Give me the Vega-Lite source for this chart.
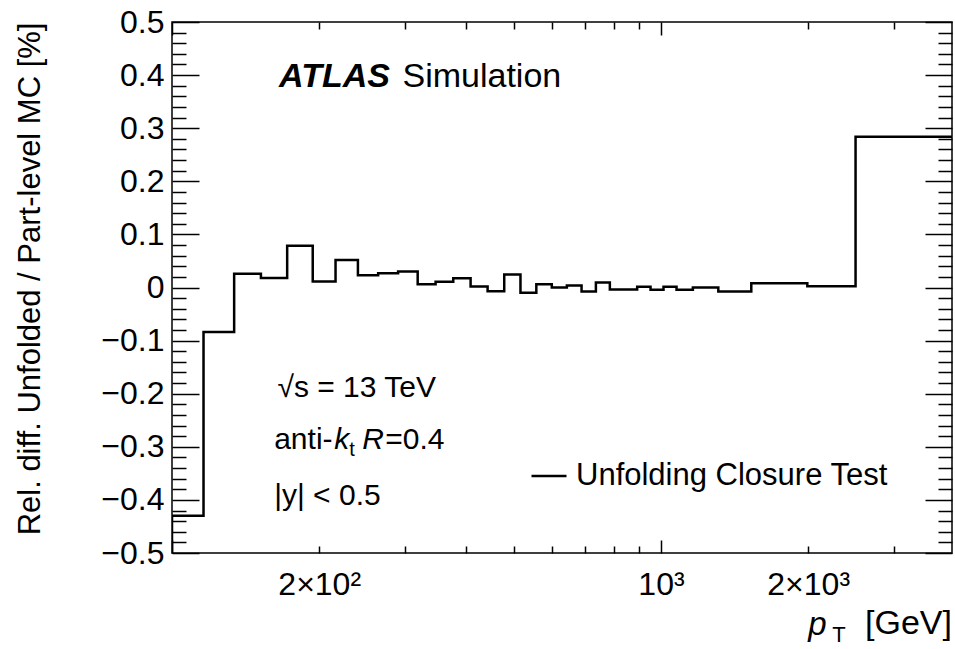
{
  "$schema": "https://vega.github.io/schema/vega-lite/v6.json",
  "width": 780,
  "height": 531,
  "autosize": {"type": "none"},
  "padding": {"left": 172, "top": 22, "right": 3, "bottom": 96},
  "background": "white",
  "config": {
    "view": {"stroke": "black", "strokeWidth": 1.5},
    "font": "Liberation Sans",
    "axis": {"domain": false, "grid": false, "tickColor": "black", "tickWidth": 1.5, "labelColor": "black", "titleColor": "black", "labelFont": "Liberation Sans", "titleFont": "Liberation Sans"}
  },
  "data": {
    "values": [
      {"i": 0, "pt": 100, "v": -0.5},
      {"i": 1, "pt": 100, "v": -0.43},
      {"i": 2, "pt": 116, "v": -0.084},
      {"i": 3, "pt": 134, "v": 0.026},
      {"i": 4, "pt": 152, "v": 0.018},
      {"i": 5, "pt": 172, "v": 0.0785},
      {"i": 6, "pt": 194, "v": 0.0113},
      {"i": 7, "pt": 216, "v": 0.052},
      {"i": 8, "pt": 240, "v": 0.023},
      {"i": 9, "pt": 264, "v": 0.027},
      {"i": 10, "pt": 290, "v": 0.030},
      {"i": 11, "pt": 318, "v": 0.006},
      {"i": 12, "pt": 346, "v": 0.0107},
      {"i": 13, "pt": 376, "v": 0.0176},
      {"i": 14, "pt": 408, "v": 0.002},
      {"i": 15, "pt": 442, "v": -0.007},
      {"i": 16, "pt": 478, "v": 0.0245},
      {"i": 17, "pt": 516, "v": -0.010},
      {"i": 18, "pt": 556, "v": 0.006},
      {"i": 19, "pt": 598, "v": 0.0},
      {"i": 20, "pt": 642, "v": 0.004},
      {"i": 21, "pt": 688, "v": -0.0075},
      {"i": 22, "pt": 736, "v": 0.0094},
      {"i": 23, "pt": 786, "v": -0.0038},
      {"i": 24, "pt": 838, "v": -0.0038},
      {"i": 25, "pt": 894, "v": 0.0013},
      {"i": 26, "pt": 952, "v": -0.0044},
      {"i": 27, "pt": 1012, "v": 0.0013},
      {"i": 28, "pt": 1076, "v": -0.0044},
      {"i": 29, "pt": 1162, "v": 0.0},
      {"i": 30, "pt": 1310, "v": -0.0075},
      {"i": 31, "pt": 1530, "v": 0.008},
      {"i": 32, "pt": 1992, "v": 0.0025},
      {"i": 33, "pt": 2500, "v": 0.284},
      {"i": 34, "pt": 3937, "v": 0.284}
    ]
  },
  "layer": [
    {
      "mark": {"type": "line", "interpolate": "step-after", "strokeWidth": 2.5, "clip": true},
      "encoding": {
        "x": {"field": "pt", "type": "quantitative",
          "scale": {"type": "log", "domain": [100, 3937], "nice": false},
          "axis": {"orient": "bottom", "values": [200, 1000, 2000], "ticks": false, "labelFontSize": 32, "labelPadding": 16,
            "labelExpr": "datum.value == 200 ? '2×10²' : datum.value == 1000 ? '10³' : '2×10³'", "title": null}},
        "y": {"field": "v", "type": "quantitative",
          "scale": {"domain": [-0.5, 0.5], "nice": false, "zero": false},
          "axis": {"orient": "left", "values": [-0.5, -0.4, -0.3, -0.2, -0.1, 0, 0.1, 0.2, 0.3, 0.4, 0.5], "ticks": false,
            "labelFontSize": 32, "labelPadding": 8,
            "labelExpr": "datum.value == 0 ? '0' : replace(format(datum.value, '.1f'), '-', '−')",
            "title": "Rel. diff. Unfolded / Part-level MC [%]", "titleFontSize": 31, "titleFontWeight": "normal",
            "titleAnchor": "end", "titlePadding": 54}},
        "order": {"field": "i", "type": "quantitative"},
        "color": {"datum": "Unfolding Closure Test", "scale": {"range": ["black"]},
          "legend": {"orient": "none", "legendX": 358, "legendY": 435, "title": null, "symbolType": "stroke", "symbolSize": 1225,
            "symbolStrokeWidth": 2.5, "symbolStrokeColor": "black", "labelFontSize": 31, "labelFont": "Liberation Sans",
            "labelColor": "black", "labelOffset": 8, "labelLimit": 0, "padding": 0}}
      }
    },
    {
      "mark": {"type": "point", "opacity": 0},
      "encoding": {
        "x": {"field": "pt", "type": "quantitative", "scale": {"type": "log", "domain": [100, 3937], "nice": false},
          "axis": {"orient": "bottom", "values": [100, 1000], "labels": false, "tickSize": -13, "title": null}},
        "y": {"field": "v", "type": "quantitative", "scale": {"domain": [-0.5, 0.5], "nice": false, "zero": false},
          "axis": {"orient": "left", "values": [-0.5, -0.4, -0.3, -0.2, -0.1, 0, 0.1, 0.2, 0.3, 0.4, 0.5], "labels": false, "tickSize": -27, "title": null}}
      }
    },
    {
      "mark": {"type": "point", "opacity": 0},
      "encoding": {
        "x": {"field": "pt", "type": "quantitative", "scale": {"type": "log", "domain": [100, 3937], "nice": false},
          "axis": {"orient": "bottom", "values": [200, 300, 400, 500, 600, 700, 800, 900, 2000, 3000], "labels": false, "tickSize": -7, "title": null}},
        "y": {"field": "v", "type": "quantitative", "scale": {"domain": [-0.5, 0.5], "nice": false, "zero": false},
          "axis": {"orient": "left", "values": [-0.48, -0.46, -0.44, -0.42, -0.38, -0.36, -0.34, -0.32, -0.28, -0.26, -0.24, -0.22, -0.18, -0.16, -0.14, -0.12, -0.08, -0.06, -0.04, -0.02, 0.02, 0.04, 0.06, 0.08, 0.12, 0.14, 0.16, 0.18, 0.22, 0.24, 0.26, 0.28, 0.32, 0.34, 0.36, 0.38, 0.42, 0.44, 0.46, 0.48], "labels": false, "tickSize": -14, "title": null}}
      }
    },
    {
      "mark": {"type": "point", "opacity": 0},
      "encoding": {
        "x": {"field": "pt", "type": "quantitative", "scale": {"type": "log", "domain": [100, 3937], "nice": false},
          "axis": {"orient": "top", "values": [100, 1000], "labels": false, "tickSize": -13, "title": null}},
        "y": {"field": "v", "type": "quantitative", "scale": {"domain": [-0.5, 0.5], "nice": false, "zero": false},
          "axis": {"orient": "right", "values": [-0.5, -0.4, -0.3, -0.2, -0.1, 0, 0.1, 0.2, 0.3, 0.4, 0.5], "labels": false, "tickSize": -27, "title": null}}
      }
    },
    {
      "mark": {"type": "point", "opacity": 0},
      "encoding": {
        "x": {"field": "pt", "type": "quantitative", "scale": {"type": "log", "domain": [100, 3937], "nice": false},
          "axis": {"orient": "top", "values": [200, 300, 400, 500, 600, 700, 800, 900, 2000, 3000], "labels": false, "tickSize": -7, "title": null}},
        "y": {"field": "v", "type": "quantitative", "scale": {"domain": [-0.5, 0.5], "nice": false, "zero": false},
          "axis": {"orient": "right", "values": [-0.48, -0.46, -0.44, -0.42, -0.38, -0.36, -0.34, -0.32, -0.28, -0.26, -0.24, -0.22, -0.18, -0.16, -0.14, -0.12, -0.08, -0.06, -0.04, -0.02, 0.02, 0.04, 0.06, 0.08, 0.12, 0.14, 0.16, 0.18, 0.22, 0.24, 0.26, 0.28, 0.32, 0.34, 0.36, 0.38, 0.42, 0.44, 0.46, 0.48], "labels": false, "tickSize": -14, "title": null}}
      }
    },
    {
      "data": {"values": [{}]},
      "mark": {"type": "text", "align": "left", "baseline": "alphabetic", "fontSize": 34, "fontStyle": "italic", "fontWeight": "bold", "color": "black"},
      "encoding": {"x": {"datum": 165.6, "axis": null}, "y": {"datum": 0.377, "axis": null}, "text": {"value": "ATLAS"}}
    },
    {
      "data": {"values": [{}]},
      "mark": {"type": "text", "align": "left", "baseline": "alphabetic", "fontSize": 34, "color": "black"},
      "encoding": {"x": {"datum": 296, "axis": null}, "y": {"datum": 0.377, "axis": null}, "text": {"value": "Simulation"}}
    },
    {
      "data": {"values": [{}]},
      "mark": {"type": "text", "align": "left", "baseline": "alphabetic", "fontSize": 30, "color": "black"},
      "encoding": {"x": {"datum": 164.3, "axis": null}, "y": {"datum": -0.2066, "axis": null}, "text": {"value": "√s = 13 TeV"}}
    },
    {
      "data": {"values": [{}]},
      "mark": {"type": "text", "align": "left", "baseline": "alphabetic", "fontSize": 30, "color": "black"},
      "encoding": {"x": {"datum": 161.8, "axis": null}, "y": {"datum": -0.304, "axis": null}, "text": {"value": "anti-"}}
    },
    {
      "data": {"values": [{}]},
      "mark": {"type": "text", "align": "left", "baseline": "alphabetic", "fontSize": 30, "fontStyle": "italic", "color": "black"},
      "encoding": {"x": {"datum": 214.6, "axis": null}, "y": {"datum": -0.304, "axis": null}, "text": {"value": "k"}}
    },
    {
      "data": {"values": [{}]},
      "mark": {"type": "text", "align": "left", "baseline": "alphabetic", "fontSize": 20, "color": "black"},
      "encoding": {"x": {"datum": 230.5, "axis": null}, "y": {"datum": -0.3164, "axis": null}, "text": {"value": "t"}}
    },
    {
      "data": {"values": [{}]},
      "mark": {"type": "text", "align": "left", "baseline": "alphabetic", "fontSize": 30, "fontStyle": "italic", "color": "black"},
      "encoding": {"x": {"datum": 245, "axis": null}, "y": {"datum": -0.304, "axis": null}, "text": {"value": "R"}}
    },
    {
      "data": {"values": [{}]},
      "mark": {"type": "text", "align": "left", "baseline": "alphabetic", "fontSize": 30, "color": "black"},
      "encoding": {"x": {"datum": 273, "axis": null}, "y": {"datum": -0.304, "axis": null}, "text": {"value": "=0.4"}}
    },
    {
      "data": {"values": [{}]},
      "mark": {"type": "text", "align": "left", "baseline": "alphabetic", "fontSize": 30, "color": "black"},
      "encoding": {"x": {"datum": 161.8, "axis": null}, "y": {"datum": -0.4105, "axis": null}, "text": {"value": "|y| < 0.5"}}
    },
    {
      "data": {"values": [{}]},
      "mark": {"type": "text", "align": "left", "baseline": "alphabetic", "fontSize": 33, "fontStyle": "italic", "color": "black"},
      "encoding": {"x": {"datum": 2000, "axis": null}, "y": {"datum": -0.654, "axis": null}, "text": {"value": "p"}}
    },
    {
      "data": {"values": [{}]},
      "mark": {"type": "text", "align": "left", "baseline": "alphabetic", "fontSize": 22, "color": "black"},
      "encoding": {"x": {"datum": 2240, "axis": null}, "y": {"datum": -0.668, "axis": null}, "text": {"value": "T"}}
    },
    {
      "data": {"values": [{}]},
      "mark": {"type": "text", "align": "right", "baseline": "alphabetic", "fontSize": 34, "color": "black"},
      "encoding": {"x": {"datum": 3937, "axis": null}, "y": {"datum": -0.652, "axis": null}, "text": {"value": "[GeV]"}}
    }
  ],
  "resolve": {"axis": {"x": "independent", "y": "independent"}}
}
